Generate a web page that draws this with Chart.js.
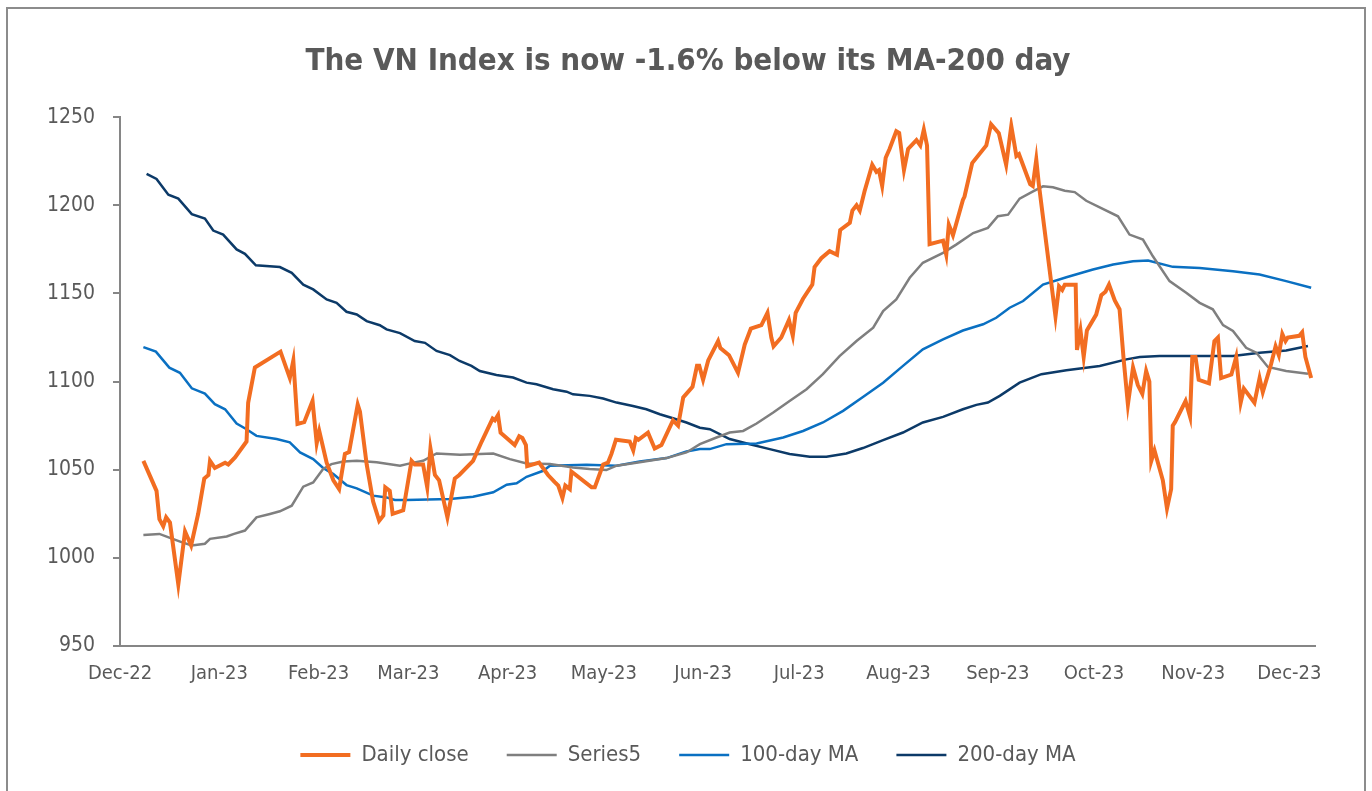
<!DOCTYPE html>
<html>
<head>
<meta charset="utf-8">
<title>VN Index vs MA-200</title>
<script src="https://cdn.jsdelivr.net/npm/chart.js@4.4.0/dist/chart.umd.min.js"></script>
<style>
    body { margin: 0; background: #ffffff; }
    #caja_grafico { width: 1372px; height: 791px; }
</style>
</head>
<body>
<div id="caja_grafico"><canvas id="canvas_vn_index" width="1372" height="791"></canvas></div>
<script>
// Eje X: dias contados desde el 1-Dec-2022, una etiqueta por inicio de mes
const etiquetas_meses = ['Dec-22', 'Jan-23', 'Feb-23', 'Mar-23', 'Apr-23', 'May-23', 'Jun-23',
                         'Jul-23', 'Aug-23', 'Sep-23', 'Oct-23', 'Nov-23', 'Dec-23'];
const dias_meses = [0, 31, 62, 90, 121, 151, 182, 212, 243, 274, 304, 335, 365];
const ticks_y = [950, 1000, 1050, 1100, 1150, 1200, 1250];

// Cierre diario (solo vertices)
const dias_cierre = [7.3, 11.4, 12.3, 13.5, 14.4, 15.6, 18.2, 20.3, 22.2, 24.4, 26.3, 27.6, 28.1, 29.6, 32.8, 33.8,
    35.9, 39.5, 40.0, 42.1, 50.1, 53.0, 54.1, 55.4, 57.5, 60.1, 61.4, 62.2, 64.5, 66.6, 68.4, 70.2, 71.5, 74.2,
    74.9, 77.0, 79.0, 80.9, 82.2, 82.8, 84.2, 85.1, 88.4, 91.0, 92.0, 94.6, 95.9, 96.9, 98.3, 99.6, 102.2, 104.5,
    105.9, 110.2, 112.9, 116.3, 117.0, 118.0, 118.8, 123.2, 124.6, 125.6, 126.7, 127.1, 130.8, 133.6, 135.7, 136.8,
    138.1, 139.0, 140.4, 140.9, 147.2, 148.2, 150.8, 152.3, 153.4, 154.8, 159.1, 160.2, 161.0, 161.8, 164.8, 166.9,
    169.0, 172.6, 174.2, 175.8, 178.7, 180.1, 180.8, 182.0, 183.6, 186.7, 187.4, 190.1, 192.9, 195.0, 196.9, 200.2,
    202.1, 203.3, 204.0, 206.4, 208.8, 210.0, 210.9, 213.2, 216.1, 216.8, 218.9, 221.5, 223.8, 224.8, 227.8, 228.6,
    229.9, 230.9, 232.4, 234.8, 236.1, 236.9, 237.9, 239.0, 240.2, 242.3, 243.2, 244.7, 246.0, 248.6, 249.8, 250.9,
    251.9, 252.7, 256.9, 257.9, 258.7, 260.0, 263.1, 263.6, 266.0, 270.4, 271.9, 274.3, 276.6, 278.2, 279.8, 280.6,
    284.1, 284.9, 286.0, 286.8, 292.0, 293.1, 294.1, 294.9, 298.3, 298.7, 299.8, 300.8, 301.8, 304.7, 306.3, 307.6,
    308.7, 310.5, 312.0, 313.3, 314.6, 316.2, 317.7, 319.1, 320.3, 321.3, 321.9, 322.9, 325.5, 326.8, 328.1, 328.6,
    329.3, 332.6, 334.0, 334.7, 335.7, 336.7, 339.9, 341.6, 342.7, 343.7, 346.9, 348.4, 349.8, 350.8, 354.1, 355.7,
    356.7, 359.3, 360.7, 361.7, 362.8, 363.8, 364.5, 368.1, 369.0, 370.0, 371.8];
const valores_cierre = [1055, 1038, 1022, 1018, 1023, 1020, 985, 1015, 1007, 1025, 1045, 1047, 1055, 1051, 1054, 1053,
    1057, 1066, 1088, 1108, 1117, 1102, 1112, 1076, 1077, 1089, 1065, 1072, 1054, 1044, 1039, 1059, 1060, 1087,
    1083, 1053, 1032, 1021, 1024, 1040, 1038, 1025, 1027, 1055, 1053, 1053, 1040, 1062, 1047, 1044, 1023, 1045,
    1047, 1055, 1066, 1079, 1078, 1081, 1071, 1064, 1069, 1068, 1064, 1052, 1054, 1047, 1043, 1041,
    1034, 1041, 1039, 1049, 1040, 1040, 1053, 1054, 1059, 1067, 1066, 1061, 1068, 1067, 1071, 1062,
    1064, 1078, 1075, 1091, 1097, 1109, 1109, 1101, 1112, 1123, 1119, 1115, 1105, 1121, 1130, 1132,
    1139, 1125, 1120, 1125, 1135, 1126, 1139, 1147, 1155, 1165, 1170, 1174, 1172, 1186, 1190, 1197,
    1200, 1197, 1208, 1223, 1219, 1220, 1211, 1227, 1232, 1242, 1241, 1220, 1232, 1237, 1234, 1243,
    1234, 1178, 1180, 1172, 1189, 1183, 1203, 1205, 1224, 1234, 1246, 1241, 1223, 1245, 1228, 1229,
    1212, 1211, 1226, 1212, 1137, 1154, 1152, 1155, 1155, 1118, 1129, 1114, 1129, 1138, 1149, 1151,
    1155, 1146, 1141, 1112, 1087, 1108, 1098, 1093, 1106, 1100, 1055, 1061, 1044, 1028, 1039, 1075,
    1077, 1089, 1080, 1114, 1114, 1101, 1099, 1123, 1125, 1102, 1104, 1114, 1088, 1096, 1088, 1102,
    1094, 1110, 1120, 1115, 1127, 1123, 1125, 1126, 1128, 1114, 1102];

// Series5 (gris)
const dias_serie5 = [7.3, 12.3, 15.6, 19.2, 22.4, 26.5, 28.1, 33.3, 35.6, 39.0, 42.6, 46.8, 49.9, 53.6, 57.2, 60.3,
    63.4, 66.0, 69.7, 73.9, 80.1, 87.4, 90.5, 94.6, 98.8, 106.1, 116.5, 121.7, 126.9, 134.2, 141.4, 146.6, 151.8,
    155.0, 162.2, 170.6, 176.8, 181.0, 186.2, 190.3, 194.5, 198.7, 203.9, 209.0, 214.3, 219.4, 224.6, 229.9, 235.1,
    238.2, 242.3, 246.5, 250.6, 256.9, 261.0, 266.3, 270.9, 274.0, 277.2, 280.8, 285.0, 288.1, 291.2, 294.9, 298.0,
    301.6, 305.8, 311.5, 315.1, 319.3, 322.4, 327.6, 332.8, 337.0, 341.1, 344.3, 347.4, 351.5, 354.7, 358.3, 364.0, 370.8];
const valores_serie5 = [1013, 1013.6, 1011.3, 1008.9, 1007, 1008, 1010.8, 1012.1, 1013.6, 1015.5, 1023, 1024.9, 1026.4,
    1029.6, 1040.4, 1042.8, 1050.4, 1053.2, 1054.7, 1055.1, 1054.2, 1052.3, 1053.6, 1055.1, 1059.2, 1058.5, 1059.2,
    1056, 1053.6, 1053.2, 1051.3, 1050.4, 1049.8, 1052.3, 1054.2, 1056.6, 1059.8, 1064.5, 1068.3, 1071.1, 1072,
    1076.2, 1082.5, 1089, 1095.7, 1104.2, 1114.5, 1123, 1130.6, 1140, 1146.6, 1158.9, 1167.4, 1173, 1177.7, 1184.3,
    1187.2, 1193.8, 1194.7, 1203.8, 1207.9, 1210.8, 1210.2, 1208.3, 1207.5, 1202.6, 1198.9, 1193.8, 1183.4, 1180.6,
    1171.1, 1157, 1150.4, 1144.7, 1141, 1132, 1128.7, 1119.2, 1116.4, 1108.3, 1106, 1104.5];

// Media movil 100 dias
const dias_ma100 = [7.3, 11.2, 15.4, 18.7, 22.4, 26.5, 29.6, 32.8, 36.4, 39.5, 42.6, 48.9, 53.0, 56.2, 60.3, 63.4,
    66.6, 70.7, 73.9, 79.0, 83.2, 85.8, 89.4, 103.0, 110.2, 116.5, 120.7, 123.8, 126.9, 132.1, 134.2, 145.6, 155.0,
    162.2, 170.6, 176.8, 181.0, 184.1, 189.3, 198.7, 207.0, 213.2, 219.4, 225.7, 231.9, 238.2, 244.4, 250.6, 256.9,
    263.1, 269.4, 273.5, 277.7, 281.9, 288.1, 295.4, 303.7, 310.0, 316.2, 320.9, 328.6, 337.0, 347.4, 355.7, 364.0, 371.8];
const valores_ma100 = [1119.6, 1117, 1107.9, 1105, 1096.2, 1093.2, 1087.2, 1084.3, 1076.2, 1073, 1069.2, 1067.4,
    1065.5, 1059.8, 1056, 1051, 1047.5, 1041.3, 1039.4, 1035.3, 1034.3, 1032.8, 1032.8, 1033.4, 1034.7, 1037.2,
    1041.5, 1042.3, 1046, 1049.4, 1052.3, 1052.8, 1052.3, 1054.7, 1056.6, 1060.4, 1061.7, 1061.7, 1064.5, 1064.9,
    1068.3, 1072, 1076.8, 1083.4, 1091.3, 1099.4, 1108.9, 1118.3, 1124, 1129, 1132.5, 1136.2, 1141.9, 1145.7, 1155,
    1159.2, 1163.6, 1166.4, 1168.3, 1168.7, 1165.1, 1164.5, 1162.6, 1160.8, 1157, 1153.2];

// Media movil 200 dias
const dias_ma200 = [8.3, 11.4, 15.1, 18.2, 22.4, 26.5, 29.1, 32.2, 36.4, 39.0, 42.4, 49.9, 53.6, 57.2, 60.3, 64.5,
    67.6, 70.7, 73.9, 77.0, 81.1, 83.2, 87.4, 92.0, 95.2, 98.8, 103.0, 106.0, 109.7, 112.3, 117.5, 122.7, 126.9,
    130.0, 135.2, 139.4, 141.4, 146.6, 150.8, 155.0, 160.1, 164.3, 168.5, 172.6, 176.8, 181.0, 184.1, 190.3, 196.6,
    202.8, 209.0, 215.3, 220.5, 226.7, 231.9, 238.2, 244.4, 250.6, 256.9, 263.1, 267.3, 270.9, 274.6, 280.8, 287.6,
    295.4, 305.8, 314.1, 318.3, 324.5, 337.0, 347.4, 355.7, 364.0, 370.8];
const valores_ma200 = [1217.9, 1215, 1206, 1203.8, 1195, 1192.5, 1185.7, 1183.4, 1175, 1172.5, 1166, 1165, 1161.7,
    1155, 1152.3, 1146.6, 1144.7, 1139.6, 1138.1, 1134.3, 1132, 1129.6, 1127.5, 1123, 1122, 1117.4, 1115, 1111.7,
    1108.9, 1106, 1103.8, 1102.3, 1099.4, 1098.5, 1095.7, 1094.3, 1092.8, 1091.9, 1090.4, 1088.1, 1086.2, 1084.3,
    1081.5, 1079.2, 1076.8, 1073.8, 1073, 1067.4, 1064.5, 1061.7, 1058.9, 1057.4, 1057.4, 1059.2, 1062.3, 1066.8,
    1071.1, 1076.8, 1080, 1084.3, 1086.8, 1088.1, 1091.9, 1099.4, 1104.2, 1106.4, 1108.9, 1112.6, 1114, 1114.5,
    1114.5, 1114.5, 1116.4, 1117.7, 1120.2];

const color_texto = '#595959';
const color_eje = '#868686';

function armar_puntos(dias, valores) {
    return dias.map(function(d, i) { return { x: d, y: valores[i] }; });
}

// Marco gris alrededor de todo el grafico y fondo blanco
const plugin_marco = {
    id: 'marco_exterior',
    beforeDraw: function(chart) {
        const ctx = chart.ctx;
        ctx.save();
        ctx.fillStyle = '#ffffff';
        ctx.fillRect(0, 0, chart.width, chart.height);
        ctx.strokeStyle = '#8c8c8c';
        ctx.lineWidth = 2;
        ctx.strokeRect(7, 8, 1358, 800);
        ctx.restore();
    }
};

Chart.defaults.font.family = 'Tahoma, "DejaVu Sans Condensed", "DejaVu Sans", sans-serif';
Chart.defaults.color = color_texto;

window.instancia_vn_index = new Chart(document.getElementById('canvas_vn_index'), {
    type: 'line',
    data: {
        datasets: [
            { label: 'Daily close', data: armar_puntos(dias_cierre, valores_cierre), borderColor: '#F26D21', backgroundColor: '#F26D21', borderWidth: 4 },
            { label: 'Series5', data: armar_puntos(dias_serie5, valores_serie5), borderColor: '#7F7F7F', backgroundColor: '#7F7F7F', borderWidth: 2.5 },
            { label: '100-day MA', data: armar_puntos(dias_ma100, valores_ma100), borderColor: '#0A70C2', backgroundColor: '#0A70C2', borderWidth: 2.5 },
            { label: '200-day MA', data: armar_puntos(dias_ma200, valores_ma200), borderColor: '#0C3A68', backgroundColor: '#0C3A68', borderWidth: 2.5 }
        ]
    },
    options: {
        responsive: false,
        animation: false,
        elements: { point: { radius: 0, hoverRadius: 0 }, line: { tension: 0 } },
        layout: { padding: { left: 4, right: 0, top: 0, bottom: 15 } },
        plugins: {
            title: {
                display: true,
                text: 'The VN Index is now -1.6% below its MA-200 day',
                color: color_texto,
                font: { size: 31, weight: 'bold' },
                padding: { top: 43, bottom: 37 }
            },
            legend: {
                position: 'bottom',
                labels: {
                    usePointStyle: true,
                    pointStyle: 'line',
                    pointStyleWidth: 50,
                    padding: 38,
                    color: color_texto,
                    font: { size: 22 }
                }
            },
            tooltip: { enabled: false }
        },
        scales: {
            x: {
                type: 'linear',
                min: 0,
                max: 373,
                afterBuildTicks: function(scale) {
                    scale.ticks = dias_meses.map(function(v) { return { value: v }; });
                },
                afterFit: function(scale) { scale.height = 60; },
                grid: { display: false, drawTicks: false },
                border: { display: true, color: color_eje, width: 2 },
                ticks: {
                    autoSkip: false,
                    maxRotation: 0,
                    padding: 16,
                    font: { size: 20 },
                    callback: function(v, i) { return etiquetas_meses[i]; }
                }
            },
            y: {
                min: 950,
                max: 1250,
                afterBuildTicks: function(scale) {
                    scale.ticks = ticks_y.map(function(v) { return { value: v }; });
                },
                afterFit: function(scale) { scale.width = 116; },
                grid: { drawOnChartArea: false, drawTicks: true, tickLength: 7, color: color_eje, lineWidth: 2 },
                border: { color: color_eje, width: 2 },
                ticks: {
                    padding: 18,
                    font: { size: 21 },
                    callback: function(v) { return String(v); }
                }
            },
            // Eje vacio a la derecha: solo reserva el margen derecho del area de trazado
            y_margen: {
                position: 'right',
                afterFit: function(scale) { scale.width = 57; },
                grid: { display: false },
                border: { display: false },
                ticks: { display: false }
            }
        }
    },
    plugins: [plugin_marco]
});
</script>
</body>
</html>
